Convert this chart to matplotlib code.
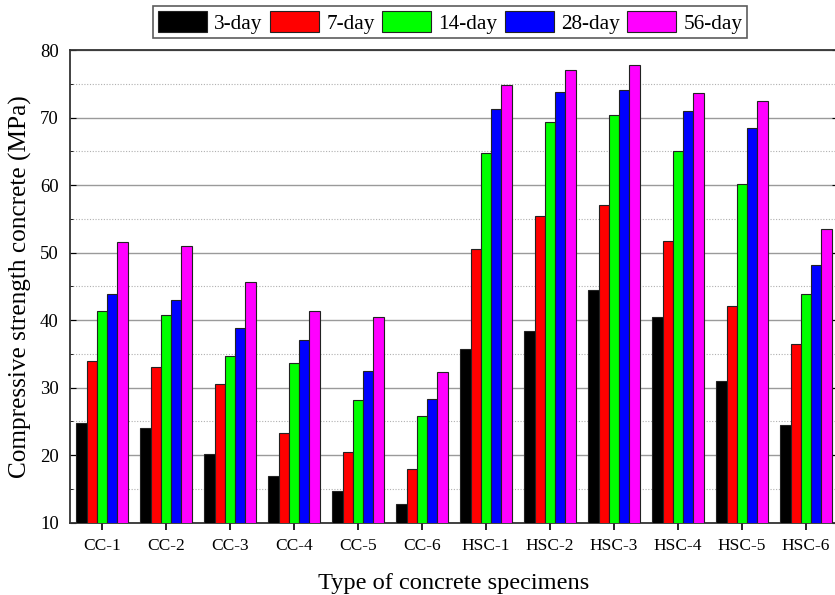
import numpy as np
import matplotlib
matplotlib.use("Agg")
import matplotlib.pyplot as plt
from matplotlib.ticker import MultipleLocator

categories = ["CC-1", "CC-2", "CC-3", "CC-4", "CC-5", "CC-6",
              "HSC-1", "HSC-2", "HSC-3", "HSC-4", "HSC-5", "HSC-6"]
series_names = ["3-day", "7-day", "14-day", "28-day", "56-day"]
day3 = [24.8, 24.0, 20.2, 16.9, 14.6, 12.8, 35.7, 38.4, 44.5, 40.5, 30.9, 24.4]
day7 = [34.0, 33.0, 30.5, 23.3, 20.4, 17.9, 50.6, 55.4, 57.1, 51.7, 42.1, 36.4]
day14 = [41.4, 40.7, 34.7, 33.7, 28.1, 25.8, 64.8, 69.4, 70.4, 65.1, 60.1, 43.8]
day28 = [43.8, 43.0, 38.8, 37.1, 32.5, 28.3, 71.3, 73.8, 74.1, 71.0, 68.4, 48.2]
day56 = [51.5, 51.0, 45.6, 41.3, 40.4, 32.3, 74.8, 77.1, 77.8, 73.6, 72.4, 53.5]
series = [day3, day7, day14, day28, day56]
colors = ["#000000", "#ff0000", "#00ff00", "#0000ff", "#ff00ff"]

plt.rcParams['font.family'] = ['Liberation Serif', 'DejaVu Serif']

fig = plt.figure(figsize=(8.35, 5.95), dpi=100)
ax = fig.add_axes([0.0838, 0.1218, 0.9198, 0.794])

x = np.arange(1, len(categories) + 1)
w = 0.16
for i, (vals, name, c) in enumerate(zip(series, series_names, colors)):
    ax.bar(x + (i - 2) * w, vals, width=w, color=c, edgecolor="#222222",
           linewidth=0.8, label=name, zorder=3)

ax.set_xlim(0.5, 12.5)
ax.set_ylim(10, 80)
ax.set_xticks(x)
ax.set_xticklabels(categories, fontsize=12.5)
ax.yaxis.set_major_locator(MultipleLocator(10))
ax.yaxis.set_minor_locator(MultipleLocator(5))
ax.tick_params(axis='y', which='both', direction='in', left=True, right=True, labelsize=13.5, pad=8)
ax.tick_params(axis='y', which='major', length=4)
ax.tick_params(axis='y', which='minor', length=2)
ax.tick_params(axis='x', which='major', direction='out', length=5, width=1.2, pad=6)
ax.grid(axis='y', which='major', color='#9a9a9a', linewidth=1.0, zorder=0)
ax.grid(axis='y', which='minor', color='#b0b0b0', linewidth=0.8, linestyle=(0, (1, 1.5)), zorder=0)
ax.set_axisbelow(True)
for s in ax.spines.values():
    s.set_color('#333333')
    s.set_linewidth(1.3)

ax.set_xlabel("Type of concrete specimens", fontsize=17.6, labelpad=14)
ax.set_ylabel("Compressive strength concrete (MPa)", fontsize=18.2, labelpad=6)

leg = ax.legend(loc='lower center', bbox_to_anchor=(0.495, 1.0), ncol=5, fontsize=15.3,
                frameon=True, fancybox=False, edgecolor='#333333', handlelength=2.3,
                handleheight=1.15, handletextpad=0.35, columnspacing=0.35,
                borderpad=0.22, borderaxespad=0.55)
leg.get_frame().set_linewidth(1.2)

fig.savefig("out.png", dpi=100)
